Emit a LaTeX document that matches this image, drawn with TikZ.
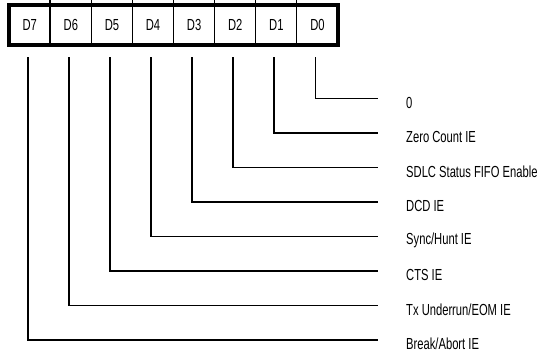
\documentclass[tikz,border=0pt]{standalone}
\usepackage{fontspec}
\setmainfont{Liberation Sans}[FakeStretch=0.7]
\begin{document}
\begin{tikzpicture}[x=1pt,y=-1pt,
  cell/.style={minimum width=41.1pt,minimum height=40pt,inner sep=0pt,anchor=north west,font=\fontsize{16}{18}\selectfont},
  lab/.style={anchor=west,inner sep=0pt,font=\fontsize{16}{18}\selectfont},
  conn/.style={line width=1.8pt},
  divider/.style={line width=1.3pt}]
\useasboundingbox (0,0) rectangle (549,353);
% cells
\foreach \i/\t in {0/D7,1/D6,2/D5,3/D4,4/D3,5/D2,6/D1,7/D0}{
  \node[cell] (c\i) at ({9+41.1*\i},5) {\t};
}
% dividers
\foreach \i in {1,...,7}{
  \draw[divider] (c\i.north west) ++(0,-5) -- (c\i.south west);
}
% outer border
\draw[line width=4pt] (c0.north west) rectangle (c7.south east);
% labels and connectors
\foreach \i/\t/\y in {
  7/{0}/98.5,
  6/{Zero Count IE}/133,
  5/{SDLC Status FIFO Enable}/167.5,
  4/{DCD IE}/202,
  3/{Sync/Hunt IE}/236.5,
  2/{CTS IE}/271,
  1/{Tx Underrun/EOM IE}/305.5,
  0/{Break/Abort IE}/340}{
  \coordinate (e\i) at (378,\y);
  \node[lab] (l\i) at (406,\y+4) {\t};
  \coordinate (s\i) at ([xshift=-2pt,yshift=-12pt]c\i.south);
  \draw[conn] (s\i) |- (e\i);
}
\end{tikzpicture}
\end{document}
